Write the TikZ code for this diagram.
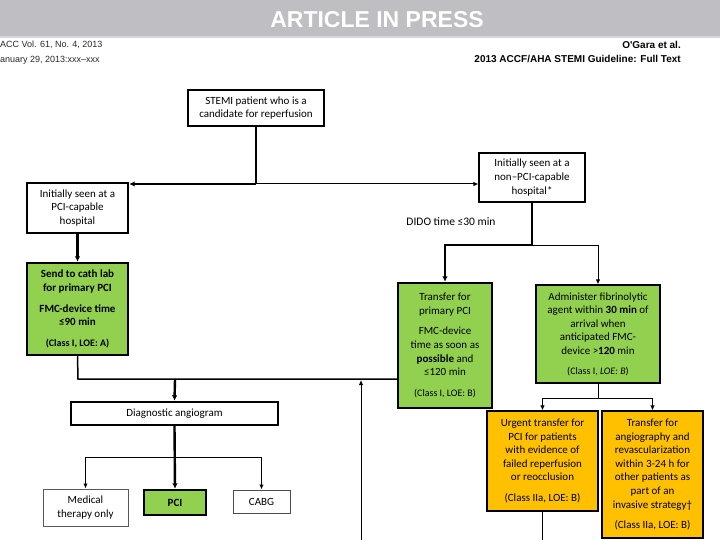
\documentclass[tikz,border=0pt]{standalone}
\usepackage{fontspec}
\setmainfont{Carlito}
\newfontfamily\hdr{Liberation Sans}
\usetikzlibrary{arrows.meta}
\definecolor{cgreen}{RGB}{146,208,80}
\definecolor{corange}{RGB}{255,192,0}
\definecolor{band}{RGB}{190,190,195}
\definecolor{bandline}{RGB}{215,215,218}
\definecolor{hdrtext}{RGB}{40,40,40}
\begin{document}
\begin{tikzpicture}[x=1pt,y=-1pt,
  box/.style={draw=black, line width=1.1pt, align=center, inner sep=0pt, font=\fontsize{11}{13.6}\selectfont},
  thkbox/.style={box, line width=2.4pt},
  grn/.style={fill=cgreen},
  org/.style={fill=corange},
  thk/.style={line width=2.4pt, -{Latex[length=5.5pt,width=5.5pt]}},
  thkline/.style={line width=2.4pt},
  thn/.style={line width=1pt, -{Latex[length=5pt,width=4.5pt]}},
  thnline/.style={line width=1pt},
  midline/.style={line width=1.5pt},
  hdrnode/.style={inner sep=0pt, font=\hdr\fontsize{9}{10}\selectfont, text=hdrtext},
  hdrbold/.style={inner sep=0pt, font=\hdr\bfseries\fontsize{10}{11}\selectfont, text=black},
]
\useasboundingbox (0,0) rectangle (720,540);
\fill[white] (0,0) rectangle (720,540);
% header band
\fill[band] (0,0) rectangle (720,37);
\draw[bandline, line width=1.5pt] (0,37) -- (720,37);
\node[inner sep=0pt, font=\hdr\bfseries\fontsize{23}{26}\selectfont, text=white] (title) at (377,20) {ARTICLE IN PRESS};
\node[hdrnode, anchor=west] (jl1) at (0,45) {ACC Vol. 61, No. 4, 2013};
\node[hdrnode, anchor=west] (jl2) at (0,60) {anuary 29, 2013:xxx–xxx};
\node[hdrbold, anchor=east] (jr1) at (681,45) {O'Gara et al.};
\node[hdrbold, anchor=east] (jr2) at (681,59) {2013 ACCF/AHA STEMI Guideline: Full Text};

% boxes
\node[box, minimum width=136pt, minimum height=36pt] (stemi) at (256,108) {STEMI patient who is a\\candidate for reperfusion};
\node[thkbox, minimum width=101pt, minimum height=50pt] (pcicap) at (77.5,208) {Initially seen at a\\PCI-capable\\hospital};
\node[box, minimum width=106pt, minimum height=49pt] (nonpci) at (532,177.5) {Initially seen at a\\non–PCI-capable\\hospital*};
\node[thkbox, grn, minimum width=101pt, minimum height=92pt] (cath) at (77.5,309) {\textbf{Send to cath lab}\\\textbf{for primary PCI}\\[7pt]\textbf{FMC-device time}\\\textbf{≤90 min}\\[7pt]{\fontsize{10}{12}\selectfont\textbf{(Class I, LOE: A)}}};
\node[thkbox, grn, minimum width=94pt, minimum height=125pt] (transfer) at (445,345.5) {Transfer for\\primary PCI\\[7pt]FMC-device\\time as soon as\\\textbf{possible} and\\≤120 min\\[7pt]{\fontsize{10}{12}\selectfont(Class I, LOE: B)}};
\node[box, grn, minimum width=124pt, minimum height=98pt] (fibr) at (598,334) {Administer fibrinolytic\\agent within \textbf{30 min} of\\arrival when\\anticipated FMC-\\device >\textbf{120} min\\[6pt]{\fontsize{10}{12}\selectfont(Class I, \textit{LOE: B})}};
\node[box, org, minimum width=111pt, minimum height=100pt] (urg) at (542.5,461) {Urgent transfer for\\PCI for patients\\with evidence of\\failed reperfusion\\or reocclusion\\[7pt](Class IIa, LOE: B)};
\node[box, org, minimum width=101pt, minimum height=127pt] (inv) at (652.5,474.5) {Transfer for\\angiography and\\revascularization\\within 3-24 h for\\other patients as\\part of an\\invasive strategy†\\[7pt](Class IIa, LOE: B)};
\node[thkbox, minimum width=207pt, minimum height=23pt] (diag) at (174.5,413.5) {Diagnostic angiogram};
\node[box, draw=black!65, line width=1pt, minimum width=85pt, minimum height=37pt] (med) at (85.5,507.5) {Medical\\therapy only};
\node[thkbox, grn, minimum width=62pt, minimum height=25pt] (pci) at (175,502.5) {\textbf{PCI}};
\node[box, draw=black!70, line width=1pt, minimum width=57pt, minimum height=23pt] (cabg) at (261.5,501.5) {CABG};

\node[inner sep=0pt, font=\fontsize{11.5}{13}\selectfont] (dido) at (451,222) {DIDO time ≤30 min};

% connectors
\coordinate (j1) at (256,184);
\draw[thkline] (stemi.south) -- (j1);
\draw[thk] (j1) -- (j1 -| pcicap.east);
\draw[thn] (j1) -- (j1 -| nonpci.west);
\draw[thk] (pcicap.south) -- (cath.north);

\coordinate (j2) at (78,379);
\draw[midline] (cath.south) -- (j2) -- (j2 -| transfer.west);
\coordinate (j3) at (175,379);
\draw[thk] (j3) -- (diag.north);

\coordinate (j4) at (532,245);
\draw[thkline] (nonpci.south) -- (j4);
\draw[thk] (j4) -| (transfer.north);
\draw[thn] (j4) -| (fibr.north);

\coordinate (j5) at (598,398);
\draw[thnline] (fibr.south) -- (j5);
\draw[thn] (j5) -| (urg.north);
\draw[thn] (j5) -| (inv.north);

\coordinate (e1) at (542.5,540);
\draw[thnline] (urg.south) -- (e1);
\coordinate (e2) at (361,540);
\coordinate (e3) at (361,380);
\draw[thn] (e2) -- (e3);

\draw[thk] (diag.south) -- (pci.north);
\coordinate (j6) at (175,457);
\draw[thn] (j6) -| (med.north);
\draw[thn] (j6) -| (cabg.north);
\end{tikzpicture}
\end{document}
